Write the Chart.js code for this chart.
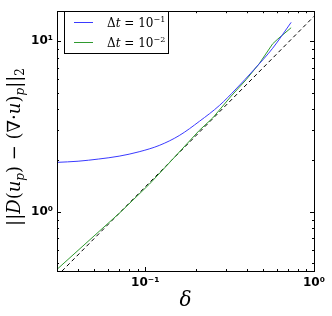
<!DOCTYPE html>
<html>
<head>
<meta charset="utf-8">
<script src="https://cdn.jsdelivr.net/npm/chart.js@4.4.1/dist/chart.umd.min.js"></script>
<style>
  html, body { margin: 0; padding: 0; background: #fff; }
  #wrap { width: 332px; height: 316px; }
</style>
</head>
<body>
<div id="wrap"><canvas id="errChart" width="332" height="316"></canvas></div>
<script>
// ── Data ─────────────────────────────────────────────────────────────────────

// Δt = 1e-1
const BLUE_DELTA = [0.03, 0.04, 0.053, 0.07, 0.092, 0.121, 0.159, 0.21, 0.275, 0.345, 0.443, 0.569, 0.732];
const BLUE_ERR   = [1.95, 1.98, 2.04, 2.12, 2.25, 2.45, 2.8, 3.4, 4.2, 5.25, 6.85, 9.1, 12.9];

// Δt = 1e-2
const GREEN_DELTA = [0.03, 0.0533, 0.0717, 0.1056, 0.133, 0.209, 0.251, 0.323, 0.396, 0.475, 0.569, 0.61, 0.732];
const GREEN_ERR   = [0.46, 0.768, 1.0, 1.45, 1.85, 3.0, 3.55, 4.77, 5.95, 7.42, 9.66, 10.3, 12.0];

// first-order reference line
const REF_DELTA = [0.03, 1];
const REF_ERR   = [0.42, 14];

const LEGEND_EXP = ['\u22121', '\u22122'];

const X_MAJOR  = [0.1, 1];
const X_LABELS = ['10\u207B\u00B9', '10\u2070'];
const X_MINOR  = [0.03, 0.04, 0.05, 0.06, 0.07, 0.08, 0.09, 0.2, 0.3, 0.4, 0.5, 0.6, 0.7, 0.8, 0.9];

const Y_MAJOR  = [1, 10];
const Y_LABELS = ['10\u2070', '10\u00B9'];
const Y_MINOR  = [0.5, 0.6, 0.7, 0.8, 0.9, 2, 3, 4, 5, 6, 7, 8, 9];

// ── Styles ───────────────────────────────────────────────────────────────────

const BLUE  = '#3a3aff';
const GREEN = '#2f9a2f';
const MATH  = 'DejaVu Serif';
const TICK_FONT = { size: 12, family: 'DejaVu Sans', weight: 'bold' };

function pairs(xs, ys) {
    return xs.map((x, i) => ({ x: x, y: ys[i] }));
}

// draw a run of text pieces (sub/superscripts, italics) starting at x
function drawRich(ctx, segs, x, y) {
    segs.forEach(s => {
        ctx.font = (s.italic ? 'italic ' : '') + s.size + 'px "' + MATH + '"';
        ctx.fillText(s.t, x, y + (s.dy || 0));
        x += ctx.measureText(s.t).width;
    });
}

function richWidth(ctx, segs) {
    return segs.reduce((w, s) => {
        ctx.font = (s.italic ? 'italic ' : '') + s.size + 'px "' + MATH + '"';
        return w + ctx.measureText(s.t).width;
    }, 0);
}

// ── Frame, inward ticks, y title and legend (matplotlib look) ────────────────

const mplFrame = {
    id: 'mplFrame',
    afterDraw(chart) {
        const { ctx, chartArea: a, scales: { x, y } } = chart;
        ctx.save();
        ctx.strokeStyle = '#000';
        ctx.lineWidth = 1;

        ctx.beginPath();
        x.ticks.forEach(t => {
            const px = Math.round(x.getPixelForValue(t.value)) + 0.5;
            const len = X_MAJOR.includes(t.value) ? 4 : 2;
            ctx.moveTo(px, a.bottom); ctx.lineTo(px, a.bottom - len);
            ctx.moveTo(px, a.top);    ctx.lineTo(px, a.top + len);
        });
        y.ticks.forEach(t => {
            const py = Math.round(y.getPixelForValue(t.value)) + 0.5;
            const len = Y_MAJOR.includes(t.value) ? 4 : 2;
            ctx.moveTo(a.left, py);  ctx.lineTo(a.left + len, py);
            ctx.moveTo(a.right, py); ctx.lineTo(a.right - len, py);
        });
        ctx.stroke();
        ctx.strokeRect(Math.round(a.left) + 0.5, Math.round(a.top) + 0.5,
                       Math.round(a.right - a.left), Math.round(a.bottom - a.top));

        // y axis title, rotated
        const title = [
            { t: '||', size: 18 },
            { t: 'D', size: 18, italic: true },
            { t: '(', size: 18 },
            { t: 'u', size: 18, italic: true },
            { t: 'p', size: 12, italic: true, dy: 4 },
            { t: ')', size: 18 },
            { t: ' \u2212 ', size: 18 },
            { t: '(\u2207\u00B7', size: 18 },
            { t: 'u', size: 18, italic: true },
            { t: ')', size: 18 },
            { t: 'p', size: 12, italic: true, dy: 4 },
            { t: '||', size: 18 },
            { t: '2', size: 12, dy: 4 }
        ];
        ctx.fillStyle = '#000';
        ctx.textBaseline = 'alphabetic';
        ctx.textAlign = 'left';
        ctx.save();
        ctx.translate(20, 147);
        ctx.rotate(-Math.PI / 2);
        drawRich(ctx, title, -richWidth(ctx, title) / 2, 0);
        ctx.restore();

        // legend
        ctx.fillStyle = '#fff';
        ctx.fillRect(64, 11, 104, 42);
        ctx.strokeStyle = '#000';
        ctx.strokeRect(64.5, 11.5, 104, 42);
        chart.data.datasets.slice(0, 2).forEach((ds, i) => {
            const ly = 22 + i * 20;
            ctx.strokeStyle = ds.borderColor;
            ctx.beginPath();
            ctx.moveTo(74, ly + 0.5); ctx.lineTo(93, ly + 0.5);
            ctx.stroke();
            ctx.fillStyle = '#000';
            drawRich(ctx, [
                { t: '\u0394', size: 12 },
                { t: 't', size: 12, italic: true },
                { t: ' = 10', size: 12 },
                { t: LEGEND_EXP[i], size: 8, dy: -5 }
            ], 107, ly + 5);
        });
        ctx.restore();
    }
};

// ── Chart ────────────────────────────────────────────────────────────────────

function logAxis(min, max, major, minor, labels, fit) {
    return {
        type: 'logarithmic',
        min: min,
        max: max,
        grid: { display: false, drawTicks: false },
        border: { display: false },
        afterBuildTicks: scale => {
            scale.ticks = minor.concat(major).sort((p, q) => p - q).map(v => ({ value: v }));
        },
        afterFit: fit,
        ticks: {
            autoSkip: false,
            maxRotation: 0,
            padding: 5,
            color: '#000',
            font: TICK_FONT,
            callback: v => {
                const k = major.indexOf(v);
                return k >= 0 ? labels[k] : '';
            }
        }
    };
}

const xScale = logAxis(0.03, 1, X_MAJOR, X_MINOR, X_LABELS, s => { s.height = 45; });
xScale.title = {
    display: true,
    text: '\u03B4',
    color: '#000',
    padding: { top: 0, bottom: 3 },
    font: { family: MATH, style: 'italic', size: 20 }
};
const yScale = logAxis(0.45, 15, Y_MAJOR, Y_MINOR, Y_LABELS, s => { s.width = 57; });
yScale.ticks.padding = 4;

new Chart(document.getElementById('errChart'), {
    type: 'scatter',
    data: {
        datasets: [
            { label: 'dt = 1e-1', data: pairs(BLUE_DELTA, BLUE_ERR), borderColor: BLUE,
              borderWidth: 1, showLine: true, pointRadius: 0, cubicInterpolationMode: 'monotone' },
            { label: 'dt = 1e-2', data: pairs(GREEN_DELTA, GREEN_ERR), borderColor: GREEN,
              borderWidth: 1, showLine: true, pointRadius: 0 },
            { label: 'ref', data: pairs(REF_DELTA, REF_ERR), borderColor: '#000',
              borderWidth: 1, borderDash: [4, 3], showLine: true, pointRadius: 0 }
        ]
    },
    options: {
        responsive: false,
        animation: false,
        layout: { padding: { top: 4, right: 18, bottom: 0, left: 0 } },
        plugins: { legend: { display: false }, tooltip: { enabled: false } },
        scales: { x: xScale, y: yScale }
    },
    plugins: [mplFrame]
});
</script>
</body>
</html>
